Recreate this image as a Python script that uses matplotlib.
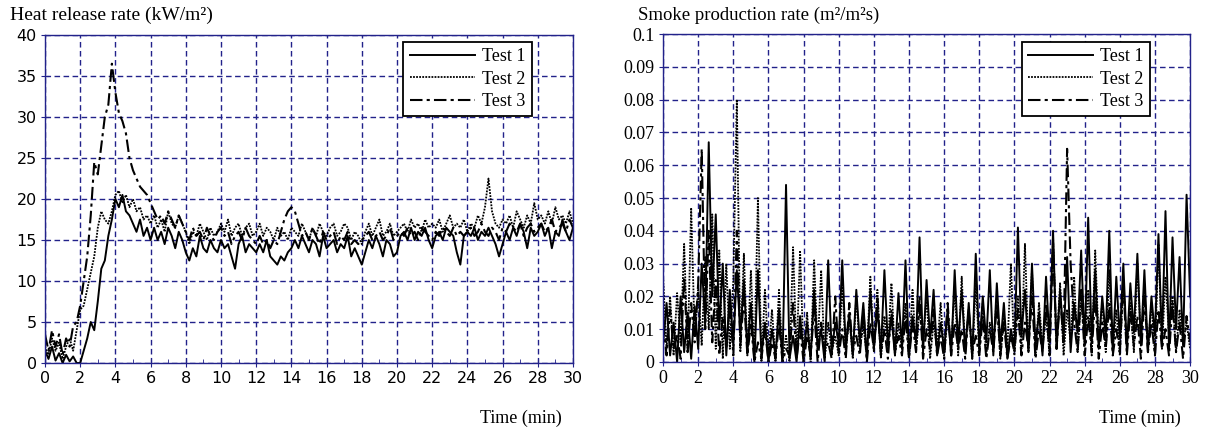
import numpy as np
import matplotlib.pyplot as plt
from matplotlib.ticker import MultipleLocator, FuncFormatter

# time axis, one reading every 0.2 min
time = np.linspace(0, 30, 151)

hrr_test1 = [1.5, 0.5, 2.0, 0.3, 1.2, 0.0, 1.0, 0.2, 0.8, 0.0, 0.0,
             1.5, 3.0, 5.0, 4.0, 7.5, 11.5, 12.5, 15.5, 17.5, 20.0,
             19.0, 20.5, 18.5, 18.0, 17.0, 16.0, 17.5, 15.5, 16.5, 15.0,
             16.5, 15.0, 16.0, 14.5, 16.5, 15.5, 14.0, 16.0, 15.0, 13.5,
             12.5, 14.0, 13.0, 15.5, 14.0, 13.5, 15.0, 14.0, 13.5, 15.0,
             14.0, 14.5, 13.0, 11.5, 14.5, 15.5, 13.5, 14.5, 14.0, 13.5,
             14.5, 13.5, 15.0, 13.0, 12.5, 12.0, 13.0, 12.5, 13.5, 14.0,
             15.0, 14.0, 15.5, 14.5, 13.5, 15.0, 14.5, 13.0, 15.5, 14.0,
             14.5, 15.0, 13.5, 14.5, 14.0, 15.5, 13.0, 14.0, 13.0, 12.0,
             13.5, 15.0, 14.0, 15.5, 14.5, 13.0, 15.0, 14.5, 13.0, 13.5,
             15.5, 16.0, 15.0, 16.5, 15.0, 16.0, 15.5, 16.5, 15.0, 14.0,
             15.5, 16.0, 15.0, 16.5, 16.0, 15.5, 13.5, 12.0, 15.5, 16.0,
             15.5, 16.5, 15.0, 16.0, 15.5, 16.5, 15.5, 14.5, 13.0, 14.5,
             16.0, 15.0, 16.5, 15.5, 17.0, 16.0, 14.0, 16.5, 15.5, 16.0,
             17.0, 15.5, 16.5, 14.0, 16.0, 15.5, 17.5, 16.0, 15.0, 16.5]

hrr_test2 = [2.0, 1.0, 3.0, 1.5, 2.5, 0.5, 2.0, 3.0, 1.5, 4.0, 6.5,
             7.0, 9.0, 11.0, 13.0, 16.5, 18.5, 17.5, 17.0, 18.5, 20.5,
             21.0, 19.5, 20.5, 19.0, 20.0, 18.5, 19.0, 17.5, 18.0, 17.0,
             18.0, 16.5, 17.5, 16.0, 18.5, 17.0, 16.5, 18.0, 17.0, 16.0,
             14.5, 16.0, 15.5, 17.0, 16.0, 15.0, 16.5, 15.5, 16.0, 17.0,
             16.0, 17.5, 15.5, 16.5, 17.0, 15.5, 16.5, 17.0, 15.5, 16.0,
             17.0, 15.5, 16.5, 16.0, 15.0, 16.5, 15.5, 16.0, 15.0, 16.5,
             16.0, 15.5, 17.0, 16.0, 15.0, 16.5, 15.5, 17.0, 16.0, 15.5,
             16.5, 17.0, 15.5, 16.0, 17.0, 16.5, 15.0, 16.0, 15.5, 14.5,
             16.0, 17.0, 15.5, 16.5, 17.5, 15.5, 16.0, 17.0, 15.5, 16.0,
             16.5, 17.0, 16.0, 17.5, 16.5, 17.0, 16.0, 17.5, 16.5, 17.0,
             16.5, 17.5, 16.0, 17.0, 18.0, 16.5, 17.0, 16.5, 17.5, 16.0,
             17.0, 16.5, 18.0, 17.0, 19.0, 22.5, 18.5, 17.0, 16.5, 17.5,
             17.0, 18.0, 16.5, 18.5, 17.5, 16.5, 18.0, 17.0, 19.5, 17.5,
             18.0, 17.0, 18.5, 17.0, 19.0, 17.5, 18.0, 17.0, 18.5, 17.0]

hrr_test3 = [3.5, 1.5, 4.0, 2.0, 3.5, 1.0, 3.0, 2.0, 4.5, 5.0, 7.0,
             10.0, 13.0, 18.0, 24.5, 23.0, 26.5, 30.0, 31.5, 36.5, 33.0,
             30.5, 29.5, 28.0, 25.0, 23.5, 22.5, 21.5, 21.0, 20.5, 19.5,
             18.5, 17.5, 18.0, 17.0, 18.5, 17.5, 16.5, 18.0, 17.0, 16.0,
             15.0, 16.5, 15.5, 16.0, 15.0, 16.5, 15.5, 15.0, 16.0, 16.5,
             15.5, 16.0, 14.5, 15.5, 16.0, 15.0, 16.5, 15.5, 15.0, 14.5,
             15.5, 14.5, 15.0, 14.0, 15.0, 14.5, 16.0, 17.5, 18.5, 19.0,
             18.5, 17.0, 15.5, 16.0, 15.0, 16.5, 15.5, 14.5, 16.0, 15.0,
             15.5, 16.0, 14.5, 15.5, 15.0, 16.0, 14.5, 15.0, 14.5, 15.0,
             15.5, 16.0, 15.0, 15.5, 16.0, 15.0, 15.5, 16.5, 15.0, 15.5,
             16.0, 15.5, 16.5, 15.5, 16.0, 15.0, 16.5, 16.0, 15.5, 15.0,
             16.0, 15.5, 16.5, 16.0, 15.5, 16.5, 15.5, 16.0, 15.5, 16.0,
             16.5, 15.5, 16.0, 17.0, 16.0, 15.5, 16.5, 16.0, 15.0, 16.5,
             16.0, 17.0, 16.5, 16.0, 17.0, 15.5, 16.5, 17.0, 16.0, 16.5,
             17.0, 16.0, 16.5, 17.5, 16.0, 16.5, 17.0, 16.0, 17.5, 16.5]

spr_test1 = [0.005, 0.018, 0.002, 0.012, 0.000, 0.020, 0.003, 0.015, 0.001, 0.017, 0.004,
             0.030, 0.012, 0.067, 0.020, 0.045, 0.010, 0.030, 0.002, 0.022, 0.005,
             0.028, 0.008, 0.025, 0.003, 0.018, 0.000, 0.028, 0.002, 0.012, 0.000,
             0.010, 0.002, 0.016, 0.000, 0.054, 0.001, 0.008, 0.000, 0.014, 0.003,
             0.012, 0.001, 0.022, 0.004, 0.010, 0.000, 0.031, 0.003, 0.012, 0.006,
             0.031, 0.004, 0.015, 0.002, 0.022, 0.006, 0.018, 0.001, 0.022, 0.004,
             0.016, 0.003, 0.028, 0.005, 0.014, 0.002, 0.021, 0.004, 0.031, 0.002,
             0.014, 0.006, 0.038, 0.003, 0.025, 0.007, 0.022, 0.002, 0.012, 0.004,
             0.016, 0.002, 0.028, 0.005, 0.022, 0.003, 0.018, 0.001, 0.033, 0.004,
             0.020, 0.006, 0.028, 0.002, 0.024, 0.005, 0.018, 0.001, 0.010, 0.004,
             0.041, 0.008, 0.022, 0.003, 0.030, 0.005, 0.015, 0.002, 0.026, 0.006,
             0.040, 0.004, 0.022, 0.007, 0.032, 0.003, 0.018, 0.009, 0.034, 0.005,
             0.044, 0.006, 0.028, 0.004, 0.020, 0.008, 0.040, 0.003, 0.026, 0.007,
             0.030, 0.004, 0.024, 0.009, 0.033, 0.005, 0.028, 0.003, 0.020, 0.008,
             0.039, 0.006, 0.046, 0.004, 0.038, 0.010, 0.032, 0.005, 0.051, 0.020]

spr_test2 = [0.026, 0.004, 0.020, 0.002, 0.021, 0.006, 0.036, 0.003, 0.047, 0.008, 0.022,
             0.005, 0.032, 0.010, 0.045, 0.004, 0.034, 0.001, 0.030, 0.004, 0.025,
             0.080, 0.003, 0.033, 0.002, 0.028, 0.001, 0.050, 0.000, 0.022, 0.002,
             0.016, 0.000, 0.022, 0.001, 0.008, 0.000, 0.035, 0.002, 0.034, 0.001,
             0.015, 0.000, 0.031, 0.004, 0.028, 0.001, 0.012, 0.003, 0.008, 0.002,
             0.024, 0.003, 0.014, 0.001, 0.020, 0.004, 0.011, 0.002, 0.026, 0.003,
             0.022, 0.001, 0.014, 0.005, 0.024, 0.002, 0.012, 0.004, 0.018, 0.001,
             0.022, 0.003, 0.016, 0.006, 0.020, 0.001, 0.012, 0.004, 0.018, 0.002,
             0.014, 0.005, 0.022, 0.002, 0.026, 0.004, 0.016, 0.001, 0.024, 0.003,
             0.018, 0.002, 0.012, 0.005, 0.020, 0.001, 0.014, 0.004, 0.030, 0.002,
             0.020, 0.004, 0.036, 0.003, 0.028, 0.002, 0.018, 0.005, 0.014, 0.003,
             0.038, 0.004, 0.024, 0.002, 0.016, 0.006, 0.026, 0.003, 0.020, 0.005,
             0.022, 0.002, 0.034, 0.006, 0.018, 0.003, 0.028, 0.004, 0.016, 0.002,
             0.024, 0.005, 0.018, 0.003, 0.030, 0.006, 0.022, 0.004, 0.018, 0.002,
             0.036, 0.004, 0.026, 0.008, 0.020, 0.003, 0.016, 0.006, 0.012, 0.004]

spr_test3 = [0.012, 0.002, 0.016, 0.004, 0.008, 0.001, 0.026, 0.003, 0.018, 0.006, 0.024,
             0.065, 0.010, 0.040, 0.006, 0.025, 0.002, 0.014, 0.004, 0.018, 0.002,
             0.040, 0.005, 0.020, 0.002, 0.012, 0.000, 0.006, 0.001, 0.010, 0.000,
             0.006, 0.001, 0.012, 0.000, 0.004, 0.002, 0.018, 0.001, 0.010, 0.000,
             0.008, 0.002, 0.016, 0.000, 0.012, 0.003, 0.006, 0.001, 0.020, 0.002,
             0.010, 0.001, 0.018, 0.003, 0.008, 0.002, 0.016, 0.000, 0.012, 0.004,
             0.020, 0.002, 0.010, 0.001, 0.016, 0.003, 0.008, 0.002, 0.014, 0.001,
             0.012, 0.003, 0.020, 0.001, 0.010, 0.004, 0.016, 0.002, 0.008, 0.001,
             0.018, 0.002, 0.012, 0.004, 0.010, 0.001, 0.016, 0.003, 0.008, 0.002,
             0.014, 0.001, 0.010, 0.003, 0.018, 0.002, 0.012, 0.001, 0.008, 0.003,
             0.016, 0.002, 0.012, 0.004, 0.020, 0.001, 0.010, 0.003, 0.018, 0.002,
             0.036, 0.004, 0.020, 0.006, 0.065, 0.030, 0.012, 0.003, 0.022, 0.002,
             0.014, 0.003, 0.020, 0.001, 0.012, 0.004, 0.018, 0.002, 0.010, 0.003,
             0.024, 0.002, 0.016, 0.005, 0.014, 0.001, 0.020, 0.003, 0.012, 0.002,
             0.016, 0.004, 0.010, 0.002, 0.018, 0.003, 0.012, 0.001, 0.014, 0.006]

labels = ["Test 1", "Test 2", "Test 3"]
navy = "#22228a"
serif = "Liberation Serif"

fig = plt.figure(figsize=(12.06, 4.29), dpi=100)
ax1 = fig.add_axes([0.0373, 0.1538, 0.4378, 0.7646])
ax2 = fig.add_axes([0.5498, 0.1562, 0.4370, 0.7645])

styles = [dict(ls="-", lw=1.4),
          dict(ls=(0, (1.0, 0.7)), lw=1.3),
          dict(ls=(0, (6, 2, 1.5, 2)), lw=1.5)]


def setup(ax, ymax, ystep, tickfont, tsize):
    ax.set_xlim(0, 30)
    ax.set_ylim(0, ymax)
    ax.xaxis.set_major_locator(MultipleLocator(2))
    ax.xaxis.set_minor_locator(MultipleLocator(1))
    ax.yaxis.set_major_locator(MultipleLocator(ystep))
    ax.yaxis.set_major_formatter(FuncFormatter(lambda v, p: f"{v:g}"))
    ax.grid(True, which="major", color=navy, ls=(0, (4, 2.5)), lw=1.0)
    ax.set_axisbelow(True)
    for s in ax.spines.values():
        s.set_color(navy)
        s.set_linewidth(1.0)
    ax.tick_params(which="major", direction="inout", length=6, color=navy,
                   labelsize=tsize, pad=3)
    ax.tick_params(which="minor", direction="in", length=3, color=navy)
    for lab in ax.get_xticklabels() + ax.get_yticklabels():
        lab.set_fontfamily(tickfont)


for data, st, lab in zip([hrr_test1, hrr_test2, hrr_test3], styles, labels):
    ax1.plot(time, data, color="black", label=lab, **st)
for data, st, lab in zip([spr_test1, spr_test2, spr_test3], styles, labels):
    ax2.plot(time, data, color="black", label=lab, **st)

setup(ax1, 40, 5, "DejaVu Sans", 11.5)
setup(ax2, 0.1, 0.01, serif, 13)

for ax, anchor in [(ax1, (0.922, 0.979)), (ax2, (0.924, 0.976))]:
    leg = ax.legend(loc="upper right", bbox_to_anchor=anchor, handlelength=3.6,
                    prop={"family": serif, "size": 13}, fancybox=False,
                    framealpha=1, edgecolor="black", borderpad=0.35,
                    labelspacing=0.3, handletextpad=0.4, borderaxespad=0)
    leg.get_frame().set_linewidth(1.3)

fig.text(0.008, 0.965, "Heat release rate (kW/m²)", family=serif, size=14,
         va="center", ha="left")
fig.text(0.529, 0.965, "Smoke production rate (m²/m²s)", family=serif, size=13.5,
         va="center", ha="left")
fig.text(0.466, 0.026, "Time (min)", family=serif, size=13, va="center", ha="right")
fig.text(0.979, 0.026, "Time (min)", family=serif, size=13, va="center", ha="right")

fig.savefig("out.png", dpi=100)
